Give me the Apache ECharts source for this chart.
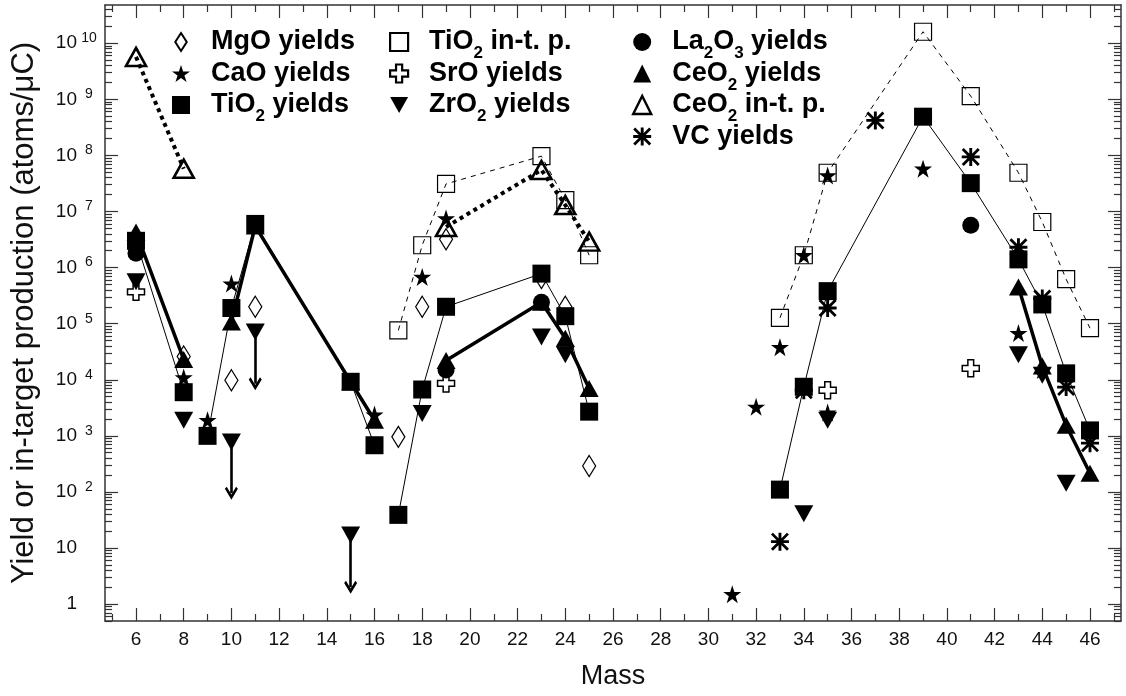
<!DOCTYPE html>
<html>
<head>
<meta charset="utf-8">
<script src="https://cdn.jsdelivr.net/npm/echarts@6/dist/echarts.min.js"></script>
<style>
html, body { margin: 0; padding: 0; background: #fff; }
#chart { width: 1126px; height: 696px; }
</style>
</head>
<body>
<div id="chart"></div>
<script>
// ---------------- tick labels ----------------
const xMajorTicks = [6, 8, 10, 12, 14, 16, 18, 20, 22, 24, 26, 28, 30, 32, 34, 36, 38, 40, 42, 44, 46];
const xMinorTicks = [5, 7, 9, 11, 13, 15, 17, 19, 21, 23, 25, 27, 29, 31, 33, 35, 37, 39, 41, 43, 45, 47];
const yMajorTicks = [1, 10, 1e2, 1e3, 1e4, 1e5, 1e6, 1e7, 1e8, 1e9, 1e10];
const yMinorMantissas = [2, 3, 4, 5, 6, 7, 8, 9];

// ---------------- data (null separates isotope chains) ----------------
const mgoMass  = [8, 10, 11, 17, 18, 19, 23, 24, 25];
const mgoYield = [2.6e4, 9.8e3, 2.0e5, 960, 2.0e5, 3.2e6, 6.5e5, 2.0e5, 290];

const caoMass  = [8, 9, 10, 16, 18, 19, 31, 32, 33, 34, 35, 35, 39, 43, 44];
const caoYield = [1.1e4, 1.9e3, 5.2e5, 2.4e3, 6.8e5, 7.5e6, 1.5, 3.3e3, 3.8e4, 1.66e6, 4.4e7, 2.6e3, 5.8e7, 6.8e4, 1.5e4];

const tio2Mass  = [6, 8, null, 9, 10, 11, 15, 16, null, 17, 18, 19, 23, 24, 25, null, 33, 34, 35, 39, 41, 43, 44, 45, 46];
const tio2Yield = [3.0e6, 6.0e3, null, 1.0e3, 1.9e5, 6.0e6, 9.2e3, 680, null, 39, 6.7e3, 2.0e5, 7.8e5, 1.36e5, 2.7e3, null, 110, 7.5e3, 3.8e5, 4.9e8, 3.2e7, 1.4e6, 2.2e5, 1.3e4, 1.25e3];

const tio2InTargetMass = [17, 18, 19, 23, 24, 25, null, 33, 34, 35, 39, 41, 43, 44, 45, 46];
const tio2InTarget     = [7.6e4, 2.5e6, 3.1e7, 9.7e7, 1.6e7, 1.66e6, null, 1.27e5, 1.66e6, 4.9e7, 1.6e10, 1.14e9, 4.9e7, 6.5e6, 6.2e5, 8.3e4];

const sroMass  = [6, 19, 35, 41];
const sroYield = [3.7e5, 8.6e3, 6.5e3, 1.6e4];

const zro2Mass  = [6, 8, 10, 11, 15, 18, 23, 24, 34, 35, 43, 44, 45];
const zro2Yield = [5.6e5, 1.9e3, 780, 7.1e4, 17, 2.5e3, 5.8e4, 2.8e4, 41, 1.9e3, 2.8e4, 1.2e4, 143];
const zro2LimitMass = [10, 11, 15];
const zro2LimitFrom = [780, 7.1e4, 17];
const zro2LimitTo   = [95, 8.5e3, 2];

const la2o3Mass  = [6, 19, 23, 41];
const la2o3Yield = [1.8e6, 1.5e4, 2.4e5, 5.7e6];

const ceo2Mass  = [6, 8, null, 10, 11, 15, 16, null, 19, 23, 24, 25, null, 43, 44, 45, 46];
const ceo2Yield = [4.3e6, 2.3e4, null, 1.07e5, 5.5e6, 9.2e3, 1.9e3, null, 2.2e4, 2.4e5, 5.5e4, 7.0e3, null, 4.5e5, 1.75e4, 1.55e3, 215];

const ceo2InTargetMass = [6, 8, null, 19, 23, 24, 25];
const ceo2InTarget     = [5.7e9, 5.8e7, null, 5.3e6, 5.5e7, 1.3e7, 2.9e6];

const vcMass  = [33, 34, 35, 37, 41, 43, 44, 45, 46];
const vcYield = [13, 6.5e3, 1.9e5, 4.2e8, 9.4e7, 2.3e6, 2.8e5, 7.4e3, 740];

// ---------------- helpers ----------------
const FONT = "'Liberation Sans', Arial, Helvetica, sans-serif";
const STAR = 'path://M50,0 L61.23,34.55 L97.55,34.55 L68.17,55.9 L79.39,90.45 L50,69.1 L20.61,90.45 L31.83,55.9 L2.45,34.55 L38.77,34.55 Z';
const DIAMOND = 'path://M50,0 L82,50 L50,100 L18,50 Z';
const TRI_DOWN = 'path://M0,0 L100,0 L50,88 Z';
const PLUS = 'path://M33,0 L67,0 L67,33 L100,33 L100,67 L67,67 L67,100 L33,100 L33,67 L0,67 L0,33 L33,33 Z';
const ASTERISK = 'path://M42,0 L58,0 L58,100 L42,100 Z M0,42 L100,42 L100,58 L0,58 Z M11,0 L100,89 L89,100 L0,11 Z M89,0 L100,11 L11,100 L0,89 Z';
const CHEVRON = 'path://M50,0 L100,70 L86,84 L50,34 L14,84 L0,70 Z';

function chains(mass, vals) {
  const out = []; let cur = [];
  mass.forEach((m, i) => {
    if (m == null) { if (cur.length) out.push(cur); cur = []; }
    else cur.push([m, vals[i]]);
  });
  if (cur.length) out.push(cur);
  return out;
}
function pts(mass, vals) { return mass.map((m, i) => [m, vals[i]]); }

const FILLED = { color: '#000', borderColor: '#000', borderWidth: 0, opacity: 1 };
function open(w) { return { color: 'rgba(0,0,0,0)', borderColor: '#000', borderWidth: w, opacity: 1 }; }

const series = [];
function addLine(name, mass, vals, symbol, size, itemStyle, lineStyle) {
  chains(mass, vals).forEach(c => series.push({
    type: 'line', name, data: c, symbol, symbolSize: size, showSymbol: true, showAllSymbol: true,
    itemStyle, lineStyle, emphasis: { disabled: true }, animation: false, silent: true
  }));
}
function addScatter(name, mass, vals, symbol, size, itemStyle, extra) {
  series.push(Object.assign({
    type: 'scatter', name, data: pts(mass, vals), symbol, symbolSize: size,
    itemStyle, emphasis: { disabled: true }, animation: false, silent: true
  }, extra || {}));
}

// draw order: bottom -> top
addLine('TiO2 in-t. p.', tio2InTargetMass, tio2InTarget, 'rect', 17, open(1.2),
  { color: '#000', width: 1, type: [5, 5] });
addLine('CeO2 in-t. p.', ceo2InTargetMass, ceo2InTarget, 'triangle', [20, 18], open(2.6),
  { color: '#000', width: 4, type: [4, 4] });
addScatter('MgO yields', mgoMass, mgoYield, DIAMOND, [13, 21], open(1.3));
addScatter('SrO yields', sroMass, sroYield, PLUS, 17, open(1.5));
addScatter('VC yields', vcMass, vcYield, ASTERISK, 18, FILLED);
addScatter('ZrO2 yields', zro2Mass, zro2Yield, TRI_DOWN, [19, 17], FILLED, {
  markLine: {
    silent: true, animation: false,
    symbol: ['none', CHEVRON], symbolSize: 13,
    label: { show: false },
    lineStyle: { color: '#000', width: 2.6, type: 'solid', opacity: 1 },
    emphasis: { disabled: true },
    data: zro2LimitMass.map((m, i) => [{ coord: [m, zro2LimitFrom[i]] }, { coord: [m, zro2LimitTo[i]] }])
  }
});
addScatter('CaO yields', caoMass, caoYield, STAR, 18, FILLED);
addLine('CeO2 yields', ceo2Mass, ceo2Yield, 'triangle', [19, 17], FILLED, { color: '#000', width: 3.5 });
addScatter('La2O3 yields', la2o3Mass, la2o3Yield, 'circle', 17, FILLED);
addLine('TiO2 yields', tio2Mass, tio2Yield, 'rect', 18, FILLED, { color: '#000', width: 1 });

// ---------------- axes ----------------
const yMinorTicks = [];
for (let e = -1; e <= 10; e++) yMinorMantissas.forEach(m => yMinorTicks.push(m * Math.pow(10, e)));

const X_MIN = 4.7, X_MAX = 47.3, Y_MIN = 0.5, Y_MAX = 4.8e10;
const AX = '#333';

function xAx(pos, ticks, len, main) {
  return {
    type: 'value', position: pos, min: X_MIN, max: X_MAX,
    name: main ? 'Mass' : '', nameLocation: 'middle', nameGap: 42,
    nameTextStyle: { fontFamily: FONT, fontSize: 27, color: '#111' },
    axisLine: { show: main !== undefined, lineStyle: { color: AX, width: 1.5 } },
    axisTick: { show: true, inside: true, length: len, customValues: ticks, lineStyle: { color: AX, width: 1.2 } },
    axisLabel: main ? { show: true, customValues: xMajorTicks, margin: 9, fontFamily: FONT, fontSize: 19, color: '#111' } : { show: false },
    splitLine: { show: false }
  };
}
function yAx(pos, ticks, len, main) {
  return {
    type: 'log', logBase: 10, position: pos, min: Y_MIN, max: Y_MAX,
    name: main ? 'Yield or in-target production (atoms/\u03bcC)' : '',
    nameLocation: 'middle', nameGap: 65, nameRotate: 90,
    nameTextStyle: { fontFamily: FONT, fontSize: 31, color: '#111' },
    axisLine: { show: main !== undefined, lineStyle: { color: AX, width: 1.5 } },
    axisTick: { show: true, inside: true, length: len, customValues: ticks, lineStyle: { color: AX, width: 1.2 } },
    axisLabel: main ? {
      show: true, customValues: yMajorTicks, margin: 7,
      formatter: v => {
        const e = Math.round(Math.log10(v));
        if (e === 0) return '{b|1}{p| }';
        if (e === 1) return '{b|10}{p| }';
        return '{b|10}{e|' + e + '}';
      },
      rich: {
        b: { fontFamily: FONT, fontSize: 19, color: '#111', lineHeight: 24, verticalAlign: 'middle' },
        e: { fontFamily: FONT, fontSize: 14, color: '#111', lineHeight: 14, width: 18, align: 'left', verticalAlign: 'top', padding: [0, 0, 0, 3] },
        p: { fontFamily: FONT, fontSize: 14, width: 21 }
      }
    } : { show: false },
    splitLine: { show: false }
  };
}

// ---------------- legend ----------------
function legendText(name) {
  let s = '{g| }';
  name.split(/(\d)/).forEach(part => {
    if (!part) return;
    if (/^\d$/.test(part)) s += '{s|' + part + '}';
    else s += '{b|' + part + '}';
  });
  if (!/\d/.test(name)) s += '{s| }';
  return s;
}
const legendIcons = {
  'MgO yields':    { icon: DIAMOND, itemStyle: open(2) },
  'CaO yields':    { icon: STAR, itemStyle: FILLED },
  'TiO2 yields':   { icon: 'rect', itemStyle: FILLED },
  'TiO2 in-t. p.': { icon: 'rect', itemStyle: open(2.2) },
  'SrO yields':    { icon: PLUS, itemStyle: open(2.2) },
  'ZrO2 yields':   { icon: TRI_DOWN, itemStyle: FILLED },
  'La2O3 yields':  { icon: 'circle', itemStyle: FILLED },
  'CeO2 yields':   { icon: 'triangle', itemStyle: FILLED },
  'CeO2 in-t. p.': { icon: 'triangle', itemStyle: open(2.4) },
  'VC yields':     { icon: ASTERISK, itemStyle: FILLED }
};
function legendCol(left, names) {
  return {
    show: true, orient: 'vertical', left, top: 27, padding: 0, itemGap: -3.5,
    itemWidth: 18, itemHeight: 18, selectedMode: false,
    data: names.map(n => Object.assign({ name: n }, legendIcons[n])),
    formatter: legendText,
    textStyle: {
      fontFamily: FONT, fontWeight: 'bold', fontSize: 27, color: '#000',
      rich: {
        g: { width: 16, fontSize: 10 },
        b: { fontFamily: FONT, fontWeight: 'bold', fontSize: 27, color: '#000', lineHeight: 30 },
        s: { fontFamily: FONT, fontWeight: 'bold', fontSize: 17, color: '#000', lineHeight: 14, verticalAlign: 'top', padding: [18, 0, 0, 0] }
      }
    }
  };
}

const option = {
  backgroundColor: '#fff',
  animation: false,
  grid: { left: 105, right: 5, top: 5, bottom: 75, containLabel: false },
  xAxis: [
    xAx('bottom', xMajorTicks, 13, true),
    xAx('bottom', xMinorTicks, 7),
    xAx('top', xMajorTicks, 13, false),
    xAx('top', xMinorTicks, 7)
  ],
  yAxis: [
    yAx('left', yMajorTicks, 13, true),
    yAx('left', yMinorTicks, 7),
    yAx('right', yMajorTicks, 13, false),
    yAx('right', yMinorTicks, 7)
  ],
  legend: [
    legendCol(172, ['MgO yields', 'CaO yields', 'TiO2 yields']),
    legendCol(389, ['TiO2 in-t. p.', 'SrO yields', 'ZrO2 yields']),
    legendCol(632, ['La2O3 yields', 'CeO2 yields', 'CeO2 in-t. p.', 'VC yields'])
  ],
  series
};

const chart = echarts.init(document.getElementById('chart'), null, { renderer: 'canvas' });
chart.setOption(option);
</script>
</body>
</html>
